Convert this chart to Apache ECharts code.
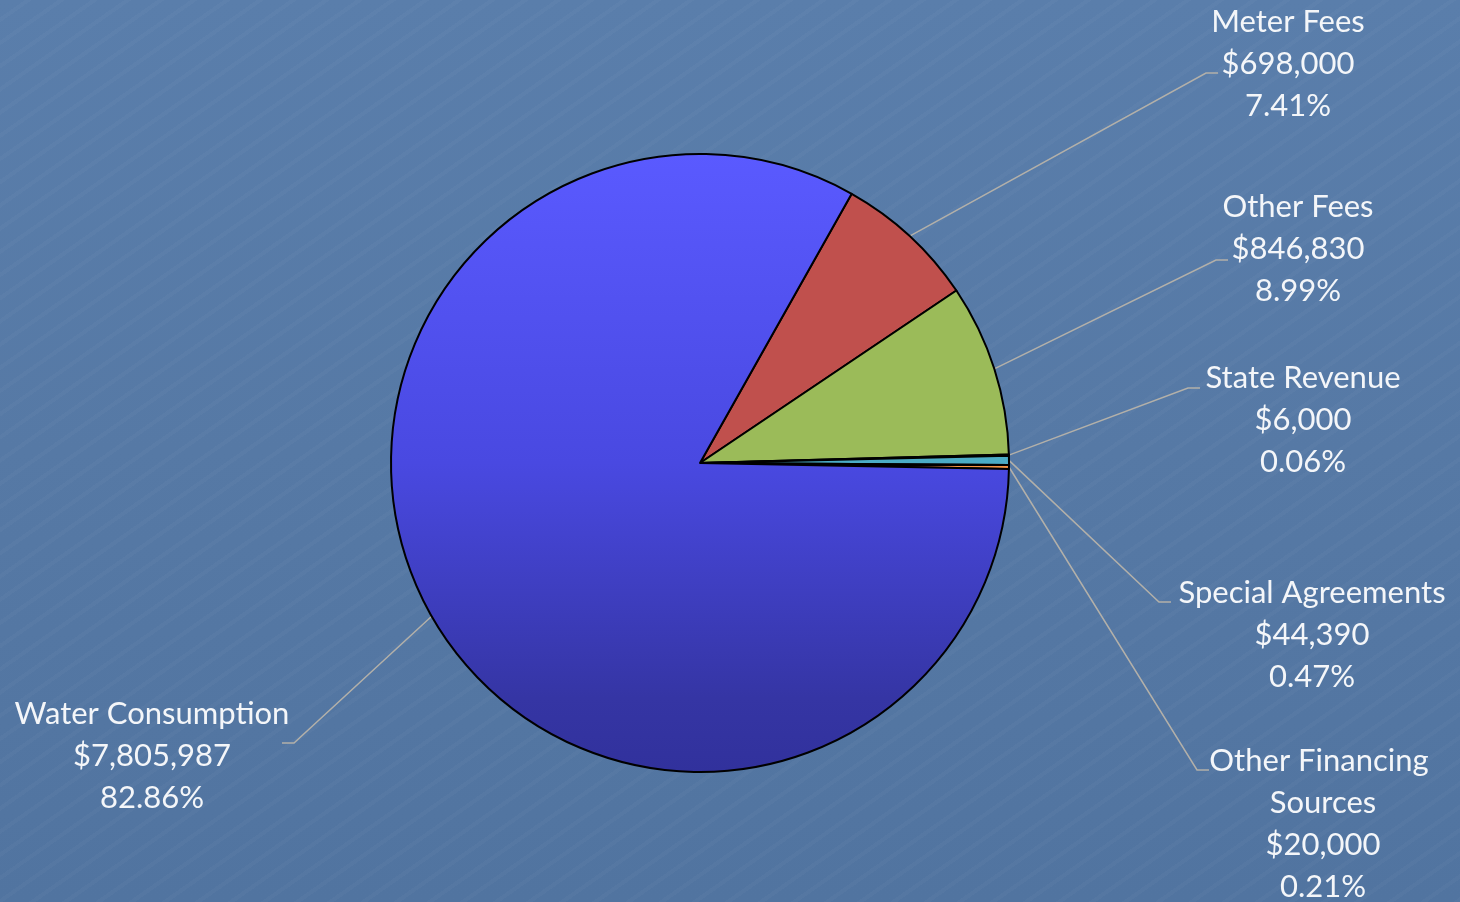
<!DOCTYPE html>
<html>
<head>
<meta charset="utf-8">
<script src="https://cdn.jsdelivr.net/npm/echarts@6/dist/echarts.min.js"></script>
<style>
html,body{margin:0;padding:0;width:1460px;height:902px;overflow:hidden;}
body{
  background-color:#5679a5;
  background-image:
    repeating-linear-gradient(-35deg, rgba(255,255,255,0.025) 0px, rgba(255,255,255,0.025) 4px, rgba(0,0,0,0) 4px, rgba(0,0,0,0) 19px),
    linear-gradient(180deg, #5a7eab 0%, #5679a5 50%, #5174a0 100%);
}
#chart{width:1460px;height:902px;}
</style>
</head>
<body>
<div id="chart"></div>
<script>
// ---- data ----
const categories = ["Meter Fees", "Other Fees", "State Revenue", "Special Agreements", "Other Financing Sources", "Water Consumption"];
const amounts = [698000, 846830, 6000, 44390, 20000, 7805987];

// ---- styles / layout (not data) ----
const sliceColors = [
  "#c0504d", "#9bbb59", "#8064a2", "#4bacc6", "#f79646",
  { type: "linear", x: 0, y: 0, x2: 0, y2: 1, colorStops: [
    { offset: 0, color: "#5a5aff" },
    { offset: 0.5, color: "#4949e1" },
    { offset: 0.88, color: "#3535a4" },
    { offset: 1, color: "#31319c" }
  ] }
];
// label block centre and leader elbow/end per slice
const labelPos = [
  { x: 1288, y: 64,  elbow: [1206, 73],  end: [1218, 73] },
  { x: 1298, y: 249, elbow: [1216, 260], end: [1228, 260] },
  { x: 1303, y: 420, elbow: [1188, 388], end: [1200, 388] },
  { x: 1312, y: 635, elbow: [1159, 602], end: [1171, 602] },
  { x: 1323, y: 824, elbow: [1197, 770], end: [1209, 770] },
  { x: 152,  y: 756, elbow: [294, 743],  end: [282, 743] }
];
const labelWidths = [null, null, null, null, 270, null];

const chart = echarts.init(document.getElementById("chart"), null, { renderer: "canvas" });

const seriesData = categories.map((name, i) => {
  const item = { name: name, value: amounts[i], itemStyle: { color: sliceColors[i] } };
  if (labelWidths[i]) item.label = { width: labelWidths[i], overflow: "break" };
  return item;
});

chart.setOption({
  backgroundColor: "transparent",
  animation: false,
  series: [{
    type: "pie",
    center: [700, 463],
    radius: 309,
    startAngle: 60.6,
    clockwise: true,
    avoidLabelOverlap: false,
    minAngle: 0,
    data: seriesData,
    itemStyle: { borderColor: "#000000", borderWidth: 2 },
    emphasis: { disabled: true },
    label: {
      show: true,
      position: "outside",
      color: "#f4f6f9",
      fontFamily: "Lato, 'Open Sans', sans-serif",
      fontSize: 31,
      lineHeight: 42,
      align: "center",
      formatter: function (p) {
        return p.name + "\n$" + p.value.toLocaleString("en-US") + "\n" + p.percent.toFixed(2) + "%";
      }
    },
    labelLine: {
      show: true,
      length: 20,
      length2: 20,
      smooth: false,
      lineStyle: { color: "#b3b0a9", width: 1.5 }
    },
    labelLayout: function (params) {
      const lp = labelPos[params.dataIndex];
      const p0 = params.labelLinePoints ? params.labelLinePoints[0] : lp.elbow;
      return {
        x: lp.x,
        y: lp.y,
        align: "center",
        verticalAlign: "middle",
        labelLinePoints: [p0, lp.elbow, lp.end]
      };
    }
  }]
});
</script>
</body>
</html>
